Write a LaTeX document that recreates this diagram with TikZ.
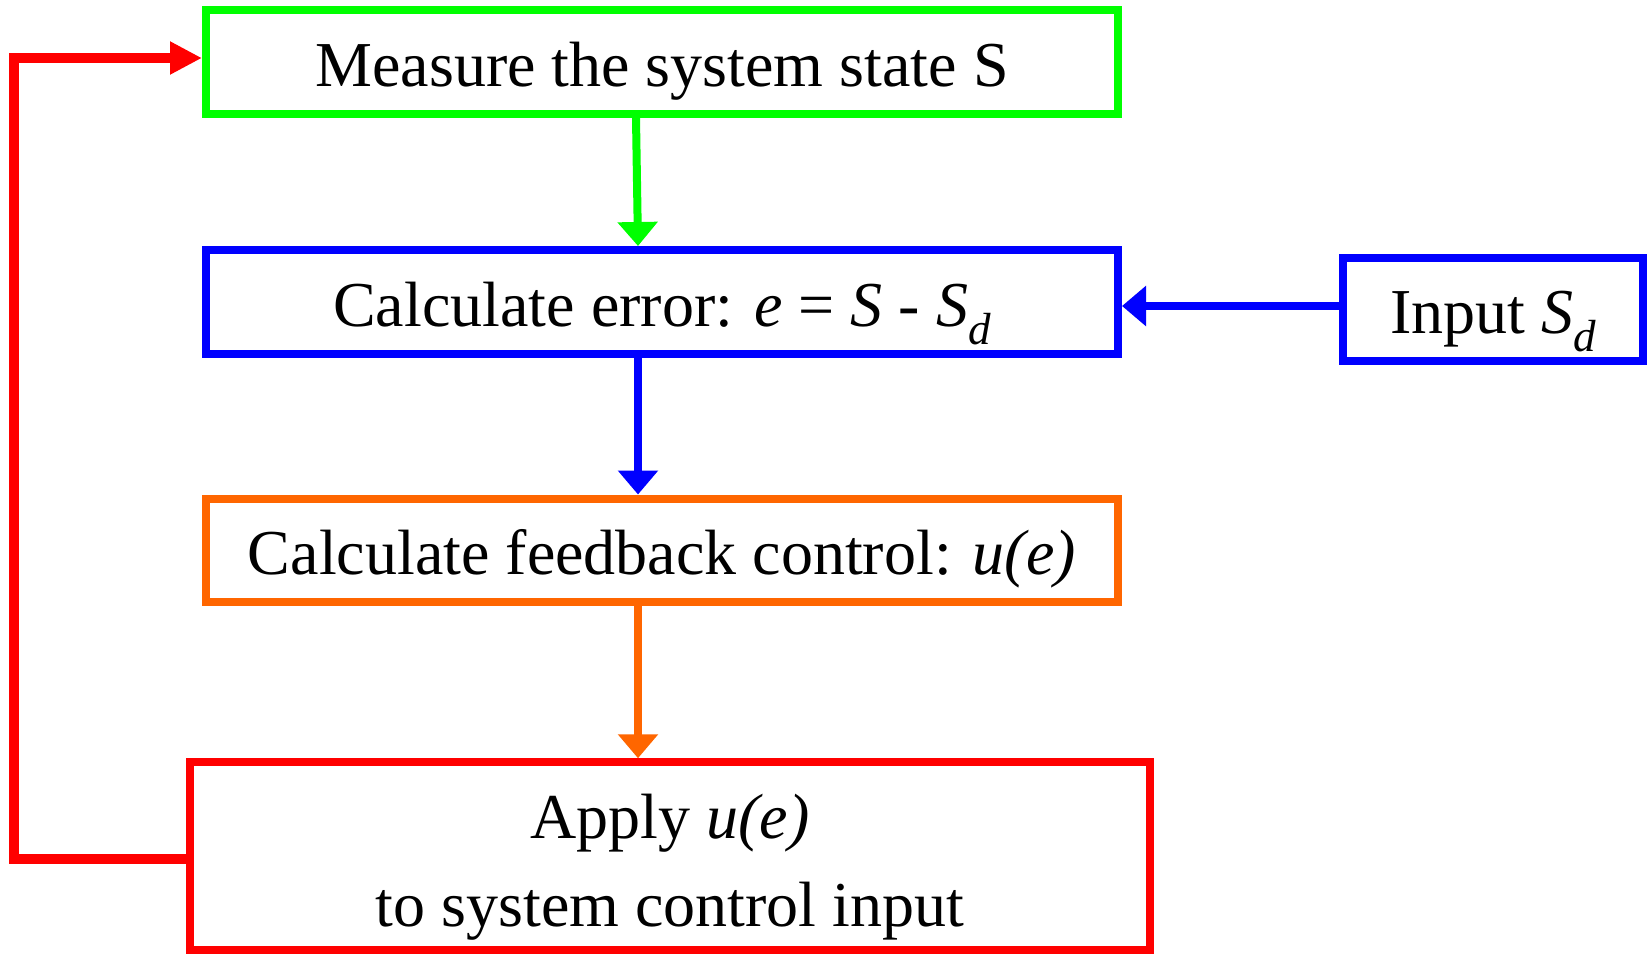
\documentclass[tikz,border=0pt]{standalone}
\usepackage{fontspec}
\setmainfont{Liberation Serif}
\usetikzlibrary{arrows.meta}
\definecolor{cgreen}{RGB}{0,255,0}
\definecolor{cblue}{RGB}{0,0,255}
\definecolor{corange}{RGB}{255,102,0}
\definecolor{cred}{RGB}{255,0,0}
\newcommand{\subd}{\raisebox{-18pt}{\fontsize{45}{45}\selectfont\itshape d}}
\begin{document}
\begin{tikzpicture}[x=1pt,y=-1pt,
  every node/.style={font=\fontsize{64}{76}\selectfont},
  box/.style={draw, line width=8pt, inner sep=0pt, text height=48pt, text depth=0pt},
  flow/.style={line width=8pt, -{Triangle[length=24pt,width=39pt]}},
  txt/.style={anchor=base, inner sep=0pt}]
\useasboundingbox (0,0) rectangle (1649,953);
\node[box, draw=cgreen, minimum width=912pt, minimum height=104pt] (measure) at (662,62) {Measure the system state S};
\node[box, draw=cblue, minimum width=912pt, minimum height=104pt] (calc) at (662,302) {Calculate error: \textit{e} = \textit{S} - \textit{S}\subd};
\node[box, draw=cblue, minimum width=300pt, minimum height=103pt] (input) at (1493,309.5) {Input \textit{S}\subd};
\node[box, draw=corange, minimum width=912pt, minimum height=103pt] (feedback) at (662,550) {Calculate feedback control: \textit{u(e)}};
\node[box, draw=cred, minimum width=959.5pt, minimum height=187.5pt] (apply) at (670,856) {};
\node[txt] (apply1) at (670,838) {Apply \textit{u(e)}};
\node[txt] (apply2) at (670,926) {to system control input};
\coordinate (loopcorner) at (14,58);
\draw[flow, cgreen] ([xshift=-26pt]measure.south) -- ([xshift=-24pt]calc.north);
\draw[flow, cblue] ([xshift=-24pt]calc.south) -- ([xshift=-24pt]feedback.north);
\draw[flow, corange] ([xshift=-24pt]feedback.south) -- ([xshift=-32pt]apply.north);
\draw[flow, cblue] ([yshift=3.5pt]input.west) -- ([yshift=-4pt]calc.east);
\draw[line width=10pt, cred, line join=miter, -{Triangle[length=32pt,width=31pt]}]
  ([yshift=-3pt]apply.west) -| (loopcorner) -- ([yshift=4pt]measure.west);
\end{tikzpicture}
\end{document}
